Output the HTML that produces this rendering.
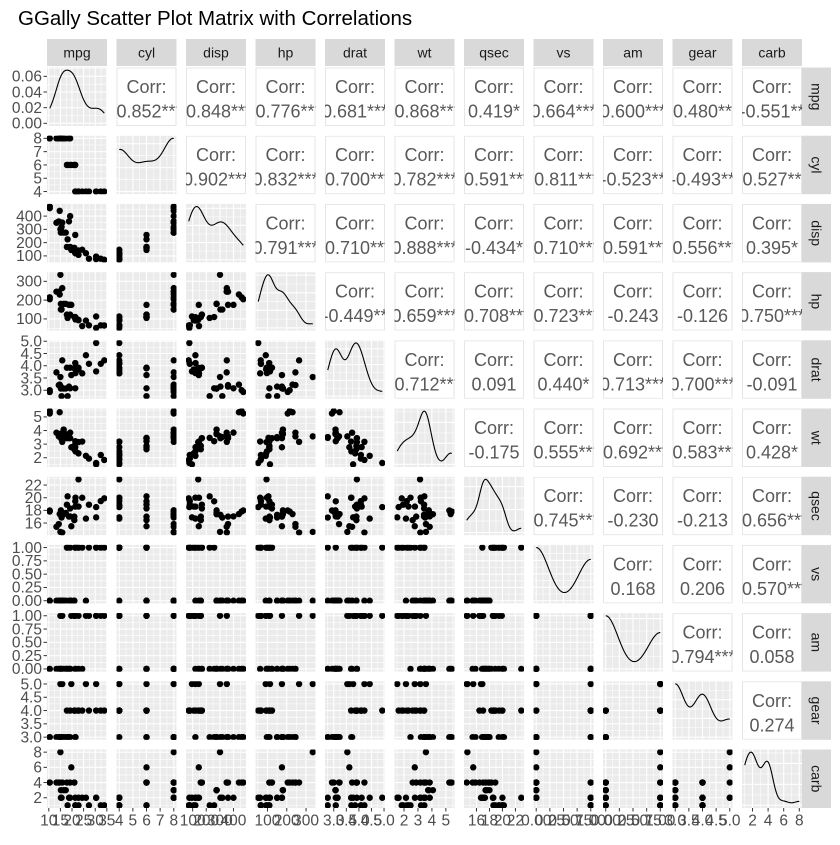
<!DOCTYPE html>
<html><head><meta charset="utf-8"><style>
html,body{margin:0;padding:0;background:#fff;}
svg text{font-family:"Liberation Sans",sans-serif;}
</style></head><body>
<svg id="chart" width="840" height="840" xmlns="http://www.w3.org/2000/svg">
<text x="18" y="25" font-size="20.5" fill="#000">GGally Scatter Plot Matrix with Correlations</text>
</svg>
<script>
const varNames = ["mpg","cyl","disp","hp","drat","wt","qsec","vs","am","gear","carb"];
const mpg = [21,21,22.8,21.4,18.7,18.1,14.3,24.4,22.8,19.2,17.8,16.4,17.3,15.2,10.4,10.4,14.7,32.4,30.4,33.9,21.5,15.5,15.2,13.3,19.2,27.3,26,30.4,15.8,19.7,15,21.4];
const cyl = [6,6,4,6,8,6,8,4,4,6,6,8,8,8,8,8,8,4,4,4,4,8,8,8,8,4,4,4,8,6,8,4];
const disp = [160,160,108,258,360,225,360,146.7,140.8,167.6,167.6,275.8,275.8,275.8,472,460,440,78.7,75.7,71.1,120.1,318,304,350,400,79,120.3,95.1,351,145,301,121];
const hp = [110,110,93,110,175,105,245,62,95,123,123,180,180,180,205,215,230,66,52,65,97,150,150,245,175,66,91,113,264,175,335,109];
const drat = [3.9,3.9,3.85,3.08,3.15,2.76,3.21,3.69,3.92,3.92,3.92,3.07,3.07,3.07,2.93,3,3.23,4.08,4.93,4.22,3.7,2.76,3.15,3.73,3.08,4.08,4.43,3.77,4.22,3.62,3.54,4.11];
const wt = [2.62,2.875,2.32,3.215,3.44,3.46,3.57,3.19,3.15,3.44,3.44,4.07,3.73,3.78,5.25,5.424,5.345,2.2,1.615,1.835,2.465,3.52,3.435,3.84,3.845,1.935,2.14,1.513,3.17,2.77,3.57,2.78];
const qsec = [16.46,17.02,18.61,19.44,17.02,20.22,15.84,20,22.9,18.3,18.9,17.4,17.6,18,17.98,17.82,17.42,19.47,18.52,19.9,20.01,16.87,17.3,15.41,17.05,18.9,16.7,16.9,14.5,15.5,14.6,18.6];
const vs = [0,0,1,1,0,1,0,1,1,1,1,0,0,0,0,0,0,1,1,1,1,0,0,0,0,1,0,1,0,0,0,1];
const am = [1,1,1,0,0,0,0,0,0,0,0,0,0,0,0,0,0,1,1,1,0,0,0,0,0,1,1,1,1,1,1,1];
const gear = [4,4,4,3,3,3,3,4,4,4,4,3,3,3,3,3,3,4,4,4,3,3,3,3,3,4,5,5,5,5,5,4];
const carb = [4,4,1,1,2,1,4,2,2,4,4,3,3,3,4,4,4,1,2,1,1,2,2,4,2,1,2,2,4,6,8,2];
const dataCols = [mpg,cyl,disp,hp,drat,wt,qsec,vs,am,gear,carb];
const tickBreaks = [[10,15,20,25,30,35],[4,5,6,7,8],[100,200,300,400],[100,200,300],[3,3.5,4,4.5,5],[2,3,4,5],[16,18,20,22],[0,0.25,0.5,0.75,1],[0,0.25,0.5,0.75,1],[3,3.5,4,4.5,5],[2,4,6,8]];
const tickLabels = [["10","15","20","25","30","35"],["4","5","6","7","8"],["100","200","300","400"],["100","200","300"],["3.0","3.5","4.0","4.5","5.0"],["2","3","4","5"],["16","18","20","22"],["0.00","0.25","0.50","0.75","1.00"],["0.00","0.25","0.50","0.75","1.00"],["3.0","3.5","4.0","4.5","5.0"],["2","4","6","8"]];
const densBreaks = [0,0.02,0.04,0.06];
const densLabels = ["0.00","0.02","0.04","0.06"];
const corrLabels = [
 ["-0.852***","-0.848***","-0.776***","0.681***","-0.868***","0.419*","0.664***","0.600***","0.480**","-0.551**"],
 ["0.902***","0.832***","-0.700***","0.782***","-0.591***","-0.811***","-0.523**","-0.493**","0.527**"],
 ["0.791***","-0.710***","0.888***","-0.434*","-0.710***","-0.591***","-0.556***","0.395*"],
 ["-0.449**","0.659***","-0.708***","-0.723***","-0.243","-0.126","0.750***"],
 ["-0.712***","0.091","0.440*","0.713***","0.700***","-0.091"],
 ["-0.175","-0.555***","-0.692***","-0.583***","0.428*"],
 ["-0.745***","-0.230","-0.213","-0.656***"],
 ["0.168","0.206","-0.570***"],
 ["0.794***","0.058"],
 ["0.274"]
];

const NS="http://www.w3.org/2000/svg";
const svg=document.getElementById('chart');
const X0=47, SX=69.5, W=60, Y0=67.5, SY=68.2, H=58.5;
const TF=15.5;
function mk(tag,attrs,parent){const e=document.createElementNS(NS,tag);for(const k in attrs)e.setAttribute(k,attrs[k]);(parent||svg).appendChild(e);return e;}
function range(a){const mn=Math.min(...a),mx=Math.max(...a),d=mx-mn;return [mn-0.05*d,mx+0.05*d];}
function scale(dom,p0,p1){return v=>p0+(v-dom[0])/(dom[1]-dom[0])*(p1-p0);}
function quant(s,p){const h=(s.length-1)*p,l=Math.floor(h);return s[l]+(h-l)*((s[l+1]===undefined?s[l]:s[l+1])-s[l]);}
function kde(a){
  const n=a.length,m=a.reduce((s,v)=>s+v,0)/n;
  const sd=Math.sqrt(a.reduce((s,v)=>s+(v-m)*(v-m),0)/(n-1));
  const s=[...a].sort((p,q)=>p-q);const iqr=quant(s,0.75)-quant(s,0.25);
  let lo=Math.min(sd,iqr/1.34); if(!(lo>0)) lo=sd;
  const bw=0.9*lo*Math.pow(n,-0.2);
  const mn=s[0],mx=s[n-1],pts=[];
  for(let i=0;i<=120;i++){const x=mn+(mx-mn)*i/120;let d=0;for(const v of a){const z=(x-v)/bw;d+=Math.exp(-0.5*z*z);}pts.push([x,d/(n*bw*Math.sqrt(2*Math.PI))]);}
  return pts;
}
function pretty(mx){const raw=mx/4,p=Math.pow(10,Math.floor(Math.log10(raw)));let st=[1,2,2.5,5,10].map(k=>k*p).find(k=>k>=raw);const r=[];for(let v=0;v<=mx+1e-12;v+=st)r.push(v);return r;}
function grid(g,px,py,xb,yb,xs,ys,x,y){
  const mids=b=>{const r=[];for(let i=0;i<b.length-1;i++)r.push((b[i]+b[i+1])/2);const st=b[1]-b[0];r.push(b[0]-st/2,b[b.length-1]+st/2);return r;};
  for(const v of mids(xb)){const p=xs(v);if(p>=x&&p<=x+W)mk('line',{x1:p,x2:p,y1:y,y2:y+H,stroke:'#fff','stroke-width':0.55},g);}
  for(const v of mids(yb)){const p=ys(v);if(p>=y&&p<=y+H)mk('line',{x1:x,x2:x+W,y1:p,y2:p,stroke:'#fff','stroke-width':0.55},g);}
  for(const v of xb){const p=xs(v);if(p>=x&&p<=x+W)mk('line',{x1:p,x2:p,y1:y,y2:y+H,stroke:'#fff','stroke-width':1.1},g);}
  for(const v of yb){const p=ys(v);if(p>=y&&p<=y+H)mk('line',{x1:x,x2:x+W,y1:p,y2:p,stroke:'#fff','stroke-width':1.1},g);}
}
const defs=mk('defs',{});
for(let i=0;i<11;i++){
  const y=Y0+i*SY;
  for(let j=0;j<11;j++){
    const x=X0+j*SX;
    const cp=mk('clipPath',{id:'c'+i+'_'+j},defs);mk('rect',{x:x,y:y,width:W,height:H},cp);
    const g=mk('g',{'clip-path':'url(#c'+i+'_'+j+')'});
    const xd=range(dataCols[j]),xs=scale(xd,x,x+W);
    if(i<j){
      
      
      mk('rect',{x:x+0.5,y:y+0.5,width:W-1,height:H-1,fill:'#fff',stroke:'#e6e6e6','stroke-width':1},g);
      const cx=x+W/2;
      const t1=mk('text',{x:cx,y:y+25.5,'text-anchor':'middle','font-size':18,fill:'#595959'},g);t1.textContent='Corr:';
      const t2=mk('text',{x:cx,y:y+50,'text-anchor':'middle','font-size':18,fill:'#595959'},g);t2.textContent=corrLabels[i][j-i-1];
    } else if(i===j){
      
      
      const pts=kde(dataCols[i]);const mx=Math.max(...pts.map(p=>p[1]));
      const yd=[-0.05*mx,mx*1.05],ys=scale(yd,y+H,y);
      mk('rect',{x:x,y:y,width:W,height:H,fill:'#EBEBEB'},g);
      const db=i===0?densBreaks:pretty(mx);
      grid(g,0,0,tickBreaks[j],db,xs,ys,x,y);
      const p=mk('path',{d:pts.map((q,k)=>(k?'L':'M')+xs(q[0]).toFixed(2)+','+ys(q[1]).toFixed(2)).join(''),fill:'none',stroke:'#000','stroke-width':1.1},g);
      
      
      if(i===0){
        for(let k=0;k<densBreaks.length;k++){const py=ys(densBreaks[k]);
          mk('line',{x1:X0-3.5,x2:X0,y1:py,y2:py,stroke:'#333','stroke-width':1});
          const t=mk('text',{x:X0-5,y:py+5.3,'text-anchor':'end','font-size':TF,fill:'#4d4d4d'});t.textContent=densLabels[k];
          
          
        }
      }
    } else {
      
      
      const yd=range(dataCols[i]),ys=scale(yd,y+H,y);
      mk('rect',{x:x,y:y,width:W,height:H,fill:'#EBEBEB'},g);
      grid(g,0,0,tickBreaks[j],tickBreaks[i],xs,ys,x,y);
      const xa=dataCols[j],ya=dataCols[i];
      for(let k=0;k<xa.length;k++){
        const c=mk('circle',{cx:xs(xa[k]),cy:ys(ya[k]),r:3.2,fill:'#000'},g);
        
        
      }
    }
  }
  if(i>0){
    const ys=scale(range(dataCols[i]),y+H,y);
    for(let k=0;k<tickBreaks[i].length;k++){const py=ys(tickBreaks[i][k]);if(py<y-0.5||py>y+H+0.5)continue;
      mk('line',{x1:X0-3.5,x2:X0,y1:py,y2:py,stroke:'#333','stroke-width':1});
      const t=mk('text',{x:X0-5,y:py+5.3,'text-anchor':'end','font-size':TF,fill:'#4d4d4d'});t.textContent=tickLabels[i][k];
      
      
    }
  }
  const rs=mk('g',{});
  
  
  mk('rect',{x:802,y:y,width:29,height:H,fill:'#D9D9D9'},rs);
  const rt=mk('text',{x:0,y:0,'text-anchor':'middle','font-size':14,fill:'#1a1a1a',transform:'translate(811.5,'+(y+H/2)+') rotate(90)'},rs);rt.textContent=varNames[i];
}
for(let j=0;j<11;j++){
  const x=X0+j*SX;
  const sg=mk('g',{});
  
  
  mk('rect',{x:x,y:39,width:W,height:27,fill:'#D9D9D9'},sg);
  const st=mk('text',{x:x+W/2,y:57.5,'text-anchor':'middle','font-size':14,fill:'#1a1a1a'},sg);st.textContent=varNames[j];
  const xs=scale(range(dataCols[j]),x,x+W);
  const by=Y0+10*SY+H;
  for(let k=0;k<tickBreaks[j].length;k++){const px=xs(tickBreaks[j][k]);if(px<x-0.5||px>x+W+0.5)continue;
    mk('line',{x1:px,x2:px,y1:by,y2:by+3.5,stroke:'#333','stroke-width':1});
    const t=mk('text',{x:px,y:by+17.5,'text-anchor':'middle','font-size':TF,fill:'#4d4d4d'});t.textContent=tickLabels[j][k];
    
    
  }
}
</script>
</body></html>
